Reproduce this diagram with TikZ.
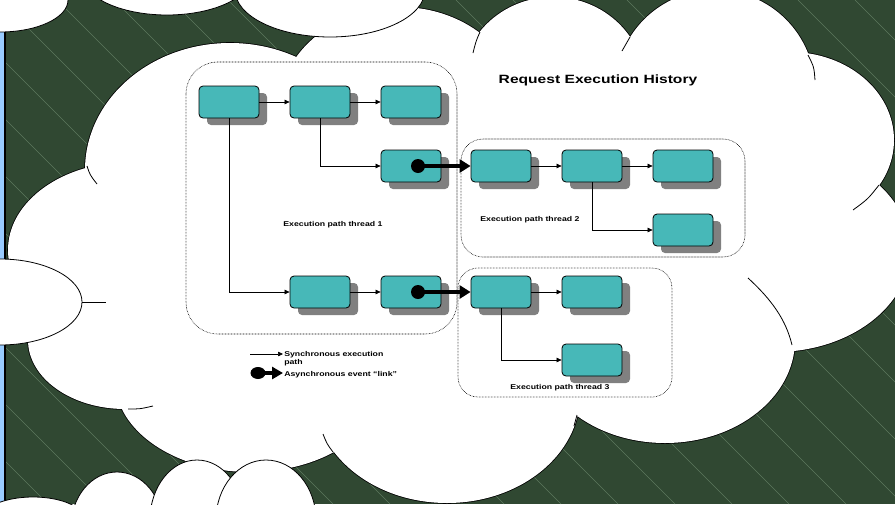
\documentclass[tikz,border=0pt]{standalone}
\usepackage{fontspec}
\setmainfont{Liberation Sans}
\usepackage{xcolor}
\definecolor{bggreen}{RGB}{48,72,50}
\definecolor{hatchgreen}{RGB}{92,120,93}
\definecolor{stripeblue}{RGB}{153,204,255}
\definecolor{boxteal}{RGB}{71,184,184}
\definecolor{shadowgrey}{RGB}{128,128,128}
\usepackage{tikz}
\usetikzlibrary{arrows.meta}
\usetikzlibrary{shadows}

\begin{document}
\begin{tikzpicture}[x=1pt, y=-1pt,
    box/.style={draw, line width=0.8pt, rounded corners=4pt, fill=boxteal,
      minimum width=60pt, minimum height=32pt, inner sep=0pt,
      drop shadow={shadow xshift=8pt, shadow yshift=-7pt, fill=shadowgrey, opacity=1}},
    sync/.style={line width=0.6pt, -{Triangle[length=5pt,width=4.5pt]}},
    async/.style={line width=4.5pt, -{Triangle[length=11pt,width=13pt]}},
    thread/.style={line width=0.6pt, dash pattern=on 0.6pt off 0.9pt},
    lbl/.style={font=\fontsize{7}{7.5}\selectfont\bfseries, xscale=1.25, inner sep=0pt},
    cloud/.style={fill=white, draw=black, line width=0.8pt}] % Request execution history

      \useasboundingbox (0,0) rectangle (895,504);
      \clip (0,0) rectangle (895,504);

      % backdrop
      \fill [bggreen] (0,0) rectangle (895,504);
      \foreach \k in {-513,-456,...,895}
        \draw [hatchgreen, line width=0.45pt] (\k,0) -- ++(504,504);
      \fill [stripeblue] (0,0) rectangle (4.5,504);
      \draw [line width=1.5pt] (5.2,0) -- (5.2,504);

      % small clouds at the top
      \draw [cloud] (0,0) ellipse [x radius=68, y radius=32];
      \draw [cloud] (167,-25) ellipse [x radius=85, y radius=40];

      % big cloud: outlines first, then the white inside
      \foreach \cx/\cy/\rx/\ry in {130/250/122/88, 125/340/97/69, 230/170/145/127,
          400/115/123/108, 553/85/92/88, 715/90/100/100, 790/140/104/88,
          775/250/135/102, 665/340/130/103, 447/395/133/108, 250/380/135/92}
        \draw [line width=1.6pt] (\cx,\cy) ellipse [x radius=\rx, y radius=\ry];
      \foreach \cx/\cy/\rx/\ry in {130/250/122/88, 125/340/97/69, 230/170/145/127,
          400/115/123/108, 553/85/92/88, 715/90/100/100, 790/140/104/88,
          775/250/135/102, 665/340/130/103, 447/395/133/108, 250/380/135/92,
          450/250/330/180}
        \fill [white] (\cx,\cy) ellipse [x radius=\rx, y radius=\ry];
      \draw [line width=0.8pt] (87,166) .. controls (90,175) .. (97,184);
      \draw [line width=0.8pt] (480,32) .. controls (476,41) .. (473,53);
      \draw [line width=0.8pt] (630,37) .. controls (626,44) .. (622,51);
      \draw [line width=0.8pt] (808,55) .. controls (814,67) .. (815,80);
      \draw [line width=0.8pt] (879,185) .. controls (868,199) .. (853,210);
      \draw [line width=0.8pt] (748,278) .. controls (772,300) and (786,320) .. (792,345);
      \draw [line width=0.8pt] (574,426) .. controls (576,420) .. (577,415);
      \draw [line width=0.8pt] (323,434) .. controls (327,444) .. (333,452);
      \draw [line width=0.8pt] (128,409) .. controls (140,409) .. (153,406);

      \draw [cloud] (330,-10) ellipse [x radius=95, y radius=47];
      \draw [cloud] (0,302) ellipse [x radius=82, y radius=43];
      \draw [line width=0.8pt] (82,302) -- (106,302);
      \draw [cloud] (33,518) ellipse [x radius=50, y radius=21];
      \draw [cloud] (117,527) ellipse [x radius=46, y radius=55];
      \draw [cloud] (197,520) ellipse [x radius=47, y radius=60];
      \draw [cloud] (266,520) ellipse [x radius=50, y radius=60];

      \node [font=\fontsize{12}{14}\selectfont\bfseries, xscale=1.3, anchor=base] (title) at (598,83) {Request Execution History};

      % thread outlines
      \draw [thread, rounded corners=32pt] (186,62) rectangle (457,334);
      \draw [thread, rounded corners=22pt] (461,139) rectangle (745,257);
      \draw [thread, rounded corners=20pt] (458,268) rectangle (672,397);

      % thread 1
      \node [box] (a1) at (229,102) {};
      \node [box] (a2) at (320,102) {};
      \node [box] (a3) at (411,102) {};
      \node [box] (a4) at (411,166) {};
      \node [box] (a5) at (320,292) {};
      \node [box] (a6) at (411,292) {};
      % thread 2
      \node [box] (b1) at (501,166) {};
      \node [box] (b2) at (592,166) {};
      \node [box] (b3) at (683,166) {};
      \node [box] (b4) at (683,230) {};
      % thread 3
      \node [box] (c1) at (501,292) {};
      \node [box] (c2) at (592,292) {};
      \node [box] (c3) at (592,360) {};

      \draw [sync] (a1) -- (a2);
      \draw [sync] (a2) -- (a3);
      \draw [sync] (a2.south) |- (a4);
      \draw [sync] (a1.south) |- (a5);
      \draw [sync] (a5) -- (a6);
      \draw [sync] (b1) -- (b2);
      \draw [sync] (b2) -- (b3);
      \draw [sync] (b2.south) |- (b4);
      \draw [sync] (c1) -- (c2);
      \draw [sync] (c1.south) |- (c3);

      % event links
      \coordinate (d1) at (418,166);
      \coordinate (d2) at (418,292);
      \fill (d1) circle [radius=7];
      \fill (d2) circle [radius=7];
      \draw [async] (d1) -- (b1);
      \draw [async] (d2) -- (c1);

      \node [lbl, anchor=base] (l1) at (333,226) {Execution path thread 1};
      \node [lbl, anchor=base] (l2) at (530,221) {Execution path thread 2};
      \node [lbl, anchor=base] (l3) at (560,389.5) {Execution path thread 3};

      % legend
      \coordinate (ls0) at (250,354);
      \coordinate (ls1) at (283,354);
      \coordinate (la0) at (258,373);
      \coordinate (la1) at (283,373);
      \draw [sync] (ls0) -- (ls1);
      \fill (la0) ellipse [x radius=7.5, y radius=6];
      \draw [line width=4.5pt, -{Triangle[length=11pt,width=12pt]}] (la0) -- (la1);
      \node [lbl, anchor=north west, align=left] (ls) at (284,351.5) {Synchronous execution\\path};
      \node [lbl, anchor=base west] (la) at (284,376) {Asynchronous event “link”};

    \end{tikzpicture}
\end{document}
